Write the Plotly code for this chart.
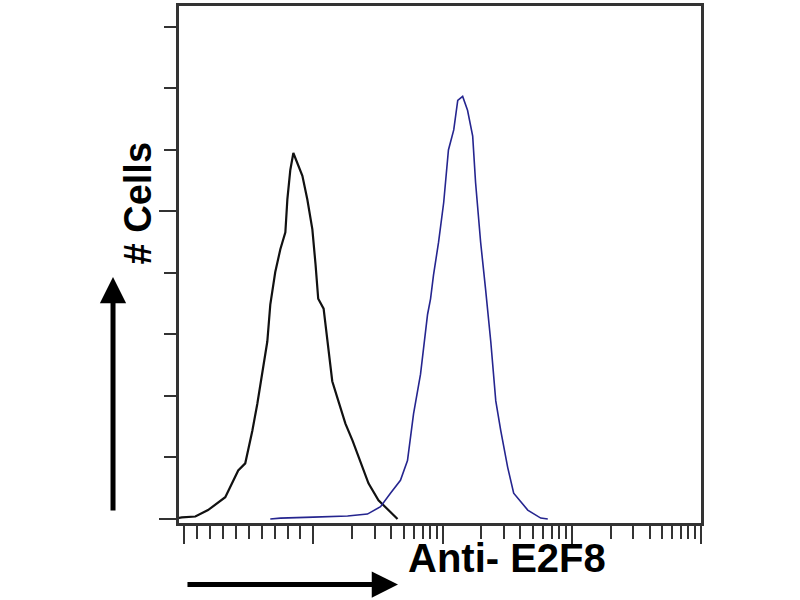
import plotly.graph_objects as go

# Isotype control (black) histogram: fluorescence intensity vs cell count
ctrl_x = [0.90, 0.96, 1.22, 1.53, 2.08, 2.62, 2.97, 3.37, 3.68, 4.03, 4.40, 4.64, 5.07,
          5.55, 6.07, 6.29, 6.63, 7.00, 7.52, 8.22, 8.98, 9.82, 10.4, 10.9, 12.0, 12.9,
          14.0, 15.6, 17.7, 20.1, 23.1, 26.7, 31.9, 38.1, 44.8]
ctrl_y = [0.3, 0.5, 0.8, 2.9, 7.1, 15.8, 18.1, 28.7, 37.4, 47.1, 57.7, 69.7, 80.3,
          87.7, 93.2, 103.9, 113.5, 119.0, 115.8, 111.6, 103.9, 94.2, 82.6, 71.6, 68.4, 57.7,
          44.8, 38.4, 31.0, 25.5, 19.0, 11.6, 6.1, 2.9, 0.0]

# Anti-E2F8 stained (blue) histogram
e2f8_x = [4.64, 5.55, 10.0, 18.4, 26.2, 33.1, 39.5, 47.2, 53.5, 59.6, 67.5, 76.5, 80.7,
          85.1, 93.1, 102, 111, 122, 131, 143, 156, 171, 180, 197, 215, 236, 258, 282,
          319, 355, 456, 575, 652]
e2f8_y = [0.0, 0.3, 0.6, 1.0, 1.6, 4.0, 8.4, 12.6, 19.0, 34.2, 47.1, 66.5, 71.6,
          79.4, 90.0, 102.9, 120.0, 126.5, 136.1, 137.4, 132.9, 124.5, 109.4, 90.0, 74.8,
          57.7, 38.4, 28.7, 16.8, 8.4, 2.9, 0.3, 0.0]

x_major_ticks = [1, 10, 100, 1000, 10000]
x_label = "<b>Anti- E2F8</b>"
y_label = "<b># Cells</b>"

# minor tick positions (first decade is evenly spaced on the instrument's scale)
first_decade = [10 ** (k / 10) for k in range(-1, 10) if k != 0]
log_minor = [m * 10 ** d for d in range(1, 4) for m in range(2, 10)]

fig = go.Figure()
fig.add_trace(go.Scatter(x=ctrl_x, y=ctrl_y, mode="lines",
                         line=dict(color="#111111", width=2.2), showlegend=False))
fig.add_trace(go.Scatter(x=e2f8_x, y=e2f8_y, mode="lines",
                         line=dict(color="#25258f", width=1.6), showlegend=False))

axis_color = "#333333"
fig.update_xaxes(type="log", range=[-0.04, 4.0], showgrid=False, zeroline=False,
                 showline=True, linecolor=axis_color, linewidth=2.5, mirror=True,
                 ticks="outside", ticklen=18, tickwidth=2, tickcolor=axis_color,
                 tickvals=x_major_ticks, showticklabels=False,
                 minor=dict(ticks="outside", ticklen=13, tickwidth=2, tickcolor=axis_color,
                            tickvals=first_decade + log_minor, showgrid=False))
fig.update_yaxes(range=[-1.3, 166.8], showgrid=False, zeroline=False,
                 showline=True, linecolor=axis_color, linewidth=2.5, mirror=True,
                 ticks="outside", ticklen=17, tickwidth=2, tickcolor=axis_color,
                 tick0=0, dtick=100, showticklabels=False,
                 minor=dict(ticks="outside", ticklen=12, tickwidth=2, tickcolor=axis_color,
                            dtick=20, tick0=0, showgrid=False))

fig.add_annotation(x=-0.1264, y=0.476, xref="paper", yref="paper", ax=0, ay=235,
                   axref="pixel", ayref="pixel", text="", showarrow=True,
                   arrowhead=2, arrowsize=1.05, arrowwidth=5, arrowcolor="black", standoff=0)
fig.add_annotation(x=0.4195, y=-0.119, xref="paper", yref="paper", ax=-212, ay=0,
                   axref="pixel", ayref="pixel", text="", showarrow=True,
                   arrowhead=2, arrowsize=1.05, arrowwidth=5, arrowcolor="black", standoff=0)
fig.add_annotation(x=0.628, y=-0.115, xref="paper", yref="paper", text=x_label,
                   showarrow=False, font=dict(family="Liberation Sans", size=40, color="black"))
fig.add_annotation(x=-0.1226, y=0.618, xref="paper", yref="paper", text=y_label,
                   textangle=-90, showarrow=False,
                   font=dict(family="Liberation Sans", size=38, color="black"))

fig.update_layout(width=800, height=600, plot_bgcolor="white", paper_bgcolor="white",
                  margin=dict(l=179, r=99, t=3, b=77))
fig.write_html("out.html", config={"displayModeBar": False},
               post_script="document.body.style.margin='0';")
